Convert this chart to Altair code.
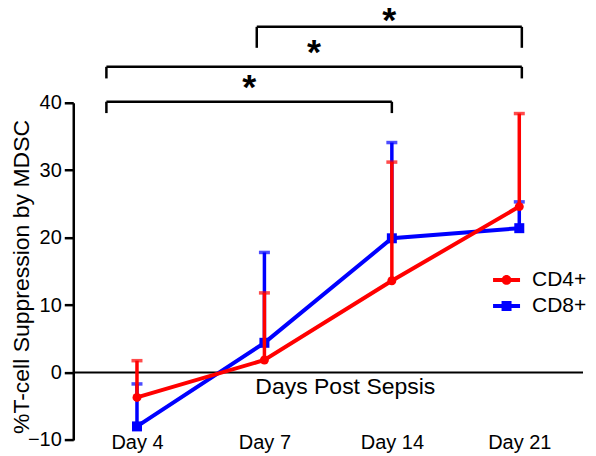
import json
import altair as alt
import pandas as pd

# ---- data ----
days = ["Day 4", "Day 7", "Day 14", "Day 21"]
day_index = [0, 1, 2, 3]
cd4_mean = [-3.7, 1.85, 13.6, 24.6]
cd4_upper = [1.75, 11.8, 31.2, 38.4]
cd8_mean = [-8.0, 4.4, 19.9, 21.4]
cd8_upper = [-1.7, 17.8, 34.1, 25.3]

# significance brackets (x in category index units, y in data units)
br_x1 = [-0.24, -0.24, 0.94]
br_x2 = [2.0, 3.02, 3.02]
br_bar = [40.15, 45.33, 51.26]
br_drop = [38.47, 43.61, 48.15]
star_y = [42.87, 48.06, 52.9]
star_text = ["*", "*", "*"]

series_names = ["CD4+", "CD8+"]
RED = "#ff0000"
BLUE = "#0000ff"
FONT = "Liberation Sans"

df = pd.concat([
    pd.DataFrame({"series": "CD4+", "idx": day_index, "day": days,
                  "mean": cd4_mean, "upper": cd4_upper}),
    pd.DataFrame({"series": "CD8+", "idx": day_index, "day": days,
                  "mean": cd8_mean, "upper": cd8_upper}),
], ignore_index=True)

seg_rows = []
for a, b, ybar, yd in zip(br_x1, br_x2, br_bar, br_drop):
    seg_rows.append({"x": a, "x2": b, "y": ybar, "y2": ybar})
    seg_rows.append({"x": a, "x2": a, "y": yd, "y2": ybar})
    seg_rows.append({"x": b, "x2": b, "y": yd, "y2": ybar})
seg_df = pd.DataFrame(seg_rows)
star_df = pd.DataFrame({"x1": br_x1, "x2": br_x2, "y": star_y, "t": star_text})

label_expr = f"{json.dumps(days)}[datum.value]"

x_scale = alt.Scale(domain=[-0.5, 3.5], nice=False, zero=False)
y_scale = alt.Scale(domain=[-10, 40], nice=False, zero=False)

x_axis = alt.Axis(
    values=day_index, labelExpr=label_expr, domain=False, ticks=False, grid=False,
    labelFont=FONT, labelFontSize=20, labelColor="black", labelPadding=3,
    labelBaseline="middle", title="Days Post Sepsis", titleFont=FONT,
    titleFontSize=23, titleFontWeight="normal", titleColor="black",
    titleX=271.7, titleY=-53.3, titleBaseline="middle", titleAlign="center",
)
y_axis = alt.Axis(
    values=[-10, 0, 10, 20, 30, 40], grid=False, domainColor="black",
    domainWidth=2.5, tickColor="black", tickWidth=2.5, tickSize=9,
    labelFont=FONT, labelFontSize=20, labelColor="black", labelPadding=3,
    title="%T-cell Suppression by MDSC", titleFont=FONT, titleFontSize=23,
    titleFontWeight="normal", titleColor="black", titleAngle=270,
    titleX=-51.5, titleY=173.8, titleBaseline="middle", titleAlign="center",
)

base = alt.Chart(df)

# axis-carrying zero line
zero_line = alt.Chart(pd.DataFrame({"x": [-0.5], "x2": [3.5], "y": [0]})).mark_rule(
    color="black", strokeWidth=2
).encode(
    x=alt.X("x:Q", scale=x_scale, axis=x_axis),
    x2="x2:Q",
    y=alt.Y("y:Q", scale=y_scale, axis=y_axis),
)

brackets = alt.Chart(seg_df).mark_rule(color="black", strokeWidth=2.5).encode(
    x="x:Q", x2="x2:Q", y="y:Q", y2="y2:Q"
)

stars = alt.Chart(star_df).transform_calculate(
    xm="(datum.x1 + datum.x2) / 2"
).mark_text(
    font=FONT, fontSize=36, fontWeight="bold", color="black",
    baseline="alphabetic", dy=16
).encode(x="xm:Q", y="y:Q", text="t:N")


def series_layers(name, color, shape, size):
    d = base.transform_filter(alt.datum.series == name)
    err = d.mark_rule(color=color, strokeWidth=3.5).encode(
        x="idx:Q", y="mean:Q", y2="upper:Q")
    cap = d.mark_tick(color=color, orient="horizontal", size=11, thickness=3.5).encode(
        x="idx:Q", y="upper:Q")
    line = d.mark_line(color=color, strokeWidth=4).encode(
        x="idx:Q", y="mean:Q", order="idx:Q")
    pts = d.mark_point(color=color, filled=True, shape=shape, size=size, opacity=1).encode(
        x="idx:Q", y="mean:Q")
    return [err, cap, line, pts]


sym_circle = ("M-1,-0.15H1V0.15H-1Z "
              "M0.36,0A0.36,0.36,0,1,1,-0.36,0A0.36,0.36,0,1,1,0.36,0Z")
sym_square = "M-1,-0.15H1V0.15H-1Z M-0.37,-0.37H0.37V0.37H-0.37Z"

legend_def = alt.Legend(
    title=None, orient="none", legendX=420, legendY=163.8, padding=0,
    symbolSize=729, symbolOpacity=1, symbolStrokeWidth=0, rowPadding=2,
    labelFont=FONT, labelFontSize=21, labelColor="black", labelOffset=12,
)
legend_layer = base.mark_point(filled=True, opacity=0).encode(
    x="idx:Q", y="mean:Q",
    color=alt.Color("series:N", scale=alt.Scale(domain=series_names, range=[RED, BLUE]),
                    legend=legend_def),
    shape=alt.Shape("series:N", scale=alt.Scale(domain=series_names,
                                                range=[sym_circle, sym_square]),
                    legend=legend_def),
)

chart = alt.layer(
    zero_line, brackets, stars,
    *series_layers("CD8+", BLUE, "square", 100),
    *series_layers("CD4+", RED, "circle", 80),
    legend_layer,
).properties(
    width=510, height=337.3,
    padding={"left": 65.3, "top": 94.7, "right": 5, "bottom": 15},
    autosize=alt.AutoSizeParams(type="none"),
    background="white",
).configure_view(stroke=None)

chart.save("out.html", embed_options={"renderer": "svg", "actions": False})
